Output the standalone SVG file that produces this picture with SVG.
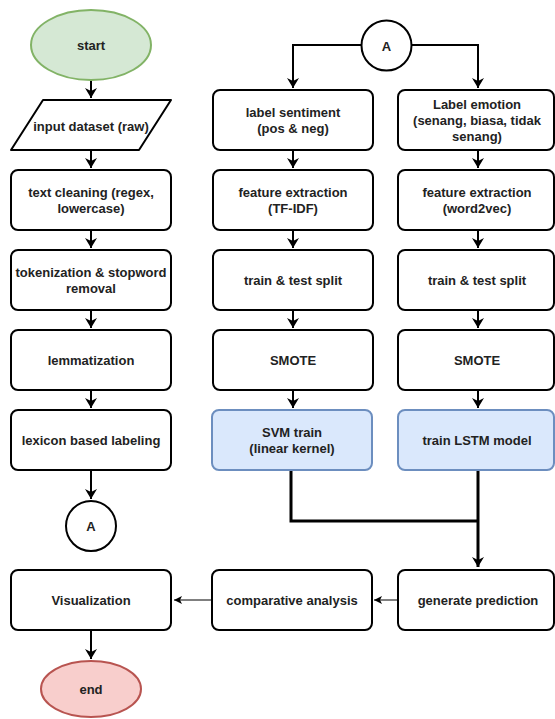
<svg xmlns="http://www.w3.org/2000/svg" width="555" height="719" viewBox="0 0 555 719">
<defs>
<style>
.box{fill:#fff;stroke:#000;stroke-width:2}
.blue{fill:#dae8fc;stroke:#6c8ebf;stroke-width:2}
.t{font-family:"Liberation Sans",Arial,sans-serif;font-size:13px;font-weight:bold;fill:#222;text-anchor:middle}
.c{fill:none;stroke:#000;stroke-width:2}
.thick{fill:none;stroke:#000;stroke-width:3}
.thin{fill:none;stroke:#000;stroke-width:1}
</style>
<marker id="ah" markerUnits="userSpaceOnUse" markerWidth="12" markerHeight="12" refX="10" refY="6" orient="auto">
<path d="M0,0 L10,6 L0,12 L3,6 Z" fill="#000"/>
</marker>
<marker id="ahs" markerUnits="userSpaceOnUse" markerWidth="9" markerHeight="8" refX="8" refY="4" orient="auto">
<path d="M0,0 L8,4 L0,8 L2,4 Z" fill="#000"/>
</marker>
</defs>
<rect width="555" height="719" fill="#fff"/>
<g id="connectors">
<path class="c" d="M91,80 V98" marker-end="url(#ah)"/>
<path class="c" d="M91,150 V168" marker-end="url(#ah)"/>
<path class="c" d="M91,230 V248" marker-end="url(#ah)"/>
<path class="c" d="M91,310 V328" marker-end="url(#ah)"/>
<path class="c" d="M91,390 V408" marker-end="url(#ah)"/>
<path class="c" d="M91,470 V499" marker-end="url(#ah)"/>
<path class="c" d="M91,630 V659" marker-end="url(#ah)"/>
<path class="c" d="M361,45 H293 V88" marker-end="url(#ah)"/>
<path class="c" d="M412,45 H478 V88" marker-end="url(#ah)"/>
<path class="c" d="M293,150 V168" marker-end="url(#ah)"/>
<path class="c" d="M293,230 V248" marker-end="url(#ah)"/>
<path class="c" d="M293,310 V328" marker-end="url(#ah)"/>
<path class="c" d="M293,390 V408" marker-end="url(#ah)"/>
<path class="c" d="M478,150 V168" marker-end="url(#ah)"/>
<path class="c" d="M478,230 V248" marker-end="url(#ah)"/>
<path class="c" d="M478,310 V328" marker-end="url(#ah)"/>
<path class="c" d="M478,390 V408" marker-end="url(#ah)"/>
<path class="thick" d="M291,470 V521 H478"/>
<path class="thick" d="M478,470 V567" marker-end="url(#ah)"/>
<path class="thin" d="M398,600 H374" marker-end="url(#ahs)"/>
<path class="thin" d="M211,600 H174" marker-end="url(#ahs)"/>
</g>
<g id="start"><ellipse cx="91" cy="45" rx="60" ry="35" fill="#d5e8d4" stroke="#82b366" stroke-width="2"/><text class="t" x="91" y="50">start</text></g>
<g id="input"><path class="box" stroke-linejoin="round" d="M43,100 H171 L139,150 H11 Z"/><text class="t" x="91" y="131">input dataset (raw)</text></g>
<g id="cleaning"><rect class="box" x="11" y="170" width="160" height="60" rx="7"/><text class="t" x="91" y="197">text cleaning (regex,</text><text class="t" x="91" y="213">lowercase)</text></g>
<g id="tokenization"><rect class="box" x="11" y="250" width="160" height="60" rx="7"/><text class="t" x="91" y="277">tokenization &amp; stopword</text><text class="t" x="91" y="293">removal</text></g>
<g id="lemmatization"><rect class="box" x="11" y="330" width="160" height="60" rx="7"/><text class="t" x="91" y="365">lemmatization</text></g>
<g id="lexicon"><rect class="box" x="11" y="410" width="160" height="60" rx="7"/><text class="t" x="91" y="445">lexicon based labeling</text></g>
<g id="connA1"><circle class="box" cx="91" cy="526" r="25"/><text class="t" x="91" y="531">A</text></g>
<g id="visualization"><rect class="box" x="11" y="570" width="160" height="60" rx="7"/><text class="t" x="91" y="605">Visualization</text></g>
<g id="end"><ellipse cx="91" cy="689" rx="50" ry="28" fill="#f8cecc" stroke="#b85450" stroke-width="2"/><text class="t" x="91" y="694">end</text></g>
<g id="connA2"><circle class="box" cx="386.5" cy="45.5" r="25"/><text class="t" x="386.5" y="50.5">A</text></g>
<g id="sentiment"><rect class="box" x="213" y="90" width="160" height="60" rx="7"/><text class="t" x="293" y="117">label sentiment</text><text class="t" x="293" y="133">(pos &amp; neg)</text></g>
<g id="emotion"><rect class="box" x="398" y="90" width="156" height="60" rx="7"/><text class="t" x="477" y="109">Label emotion</text><text class="t" x="477" y="125">(senang, biasa, tidak</text><text class="t" x="477" y="141">senang)</text></g>
<g id="tfidf"><rect class="box" x="213" y="170" width="160" height="60" rx="7"/><text class="t" x="293" y="197">feature extraction</text><text class="t" x="293" y="213">(TF-IDF)</text></g>
<g id="w2v"><rect class="box" x="398" y="170" width="156" height="60" rx="7"/><text class="t" x="477" y="197">feature extraction</text><text class="t" x="477" y="213">(word2vec)</text></g>
<g id="split1"><rect class="box" x="213" y="250" width="160" height="60" rx="7"/><text class="t" x="293" y="285">train &amp; test split</text></g>
<g id="split2"><rect class="box" x="398" y="250" width="156" height="60" rx="7"/><text class="t" x="477" y="285">train &amp; test split</text></g>
<g id="smote1"><rect class="box" x="213" y="330" width="160" height="60" rx="7"/><text class="t" x="293" y="365">SMOTE</text></g>
<g id="smote2"><rect class="box" x="398" y="330" width="156" height="60" rx="7"/><text class="t" x="477" y="365">SMOTE</text></g>
<g id="svm"><rect class="blue" x="212" y="410" width="160" height="60" rx="7"/><text class="t" x="292" y="437">SVM train</text><text class="t" x="292" y="453">(linear kernel)</text></g>
<g id="lstm"><rect class="blue" x="398" y="410" width="156" height="60" rx="7"/><text class="t" x="477" y="445">train LSTM model</text></g>
<g id="comparative"><rect class="box" x="212" y="570" width="160" height="60" rx="7"/><text class="t" x="292" y="605">comparative analysis</text></g>
<g id="prediction"><rect class="box" x="398" y="570" width="156" height="60" rx="7"/><text class="t" x="478" y="605">generate prediction</text></g>
</svg>
